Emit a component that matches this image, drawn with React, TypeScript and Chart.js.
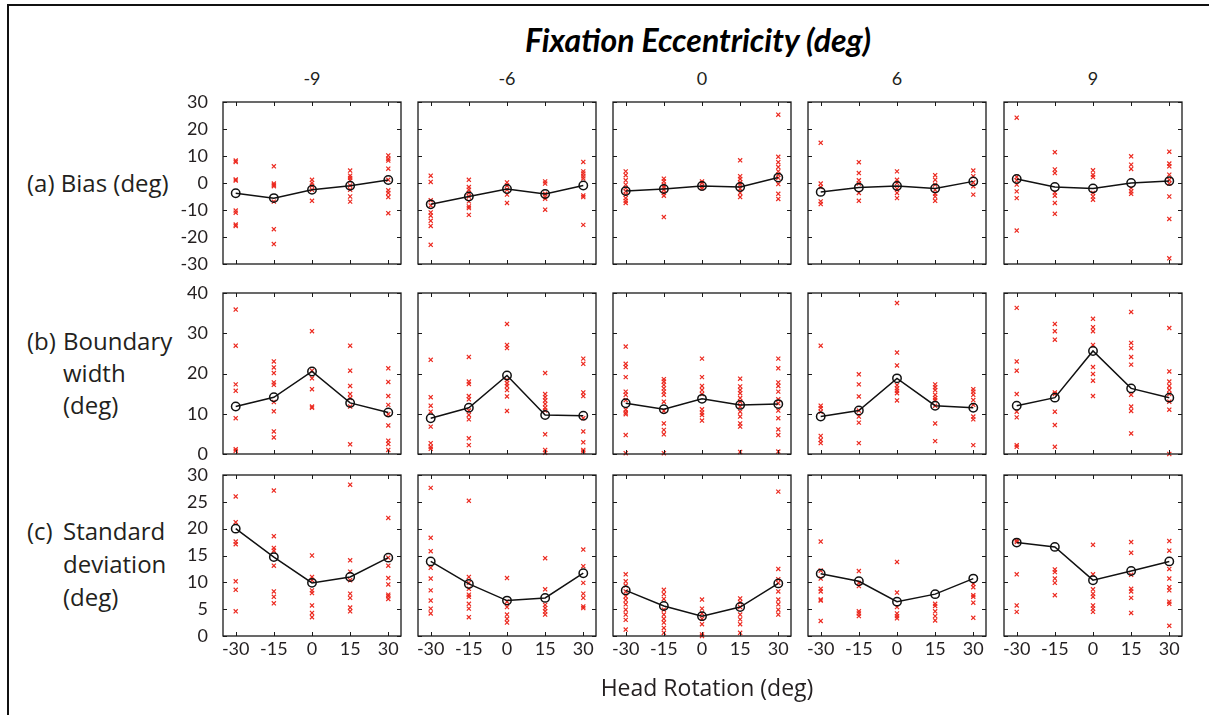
import React, { useEffect, useRef } from 'react';
import { Chart, registerables } from 'chart.js';

Chart.register(...registerables);

// ---------- data ----------
const HEAD_ROTATION = [-30, -15, 0, 15, 30];
const ECCENTRICITY = ['-9', '-6', '0', '6', '9'];

const BIAS_TICKS = { min: -30, max: 30, step: 10 };
const WIDTH_TICKS = { min: 0, max: 40, step: 10 };
const SD_TICKS = { min: 0, max: 30, step: 5 };

// means per eccentricity column (-9, -6, 0, 6, 9), over head rotations
const BIAS_MEANS = [
  [-3.8, -5.6, -2.5, -1.0, 1.1],
  [-7.9, -5.0, -2.2, -4.1, -0.9],
  [-3.0, -2.2, -1.1, -1.5, 2.0],
  [-3.3, -1.7, -1.1, -2.0, 0.6],
  [1.5, -1.5, -2.0, 0.0, 0.7],
];
const BIAS_POINTS = [
  [
    [8.3, 7.8, 1.3, 0.9, -10.2, -11, -15.4, -15.9],
    [6.2, -0.2, -0.7, -1.2, -6.9, -17.1, -22.6],
    [1.2, 0, -1, -2.5, -6.6],
    [4.6, 2.7, 1.9, 1, -0.9, -2.5, -5, -6.9],
    [10.2, 9, 8.3, 5.3, 1.2, -2.7, -3.7, -5.2, -11.2],
  ],
  [
    [2.7, 0.4, -6.4, -8.3, -10.9, -12.1, -14, -15.9, -22.9],
    [1.2, -1.5, -2.5, -3.7, -5, -6.8, -8.7, -9.3, -11.8],
    [0.2, -1, -2.5, -4.3, -7.4],
    [0.6, -0.2, -4, -5, -5.8, -9.9],
    [7.8, 4.3, 3.5, 2.5, 1.7, -4.6, -5.2, -15.5],
  ],
  [
    [4.3, 2.9, 1, -0.6, -1.9, -3.1, -4.3, -5.6, -6.6, -7.4],
    [1.6, 0.6, -0.6, -1.5, -2.5, -3.7, -4.7, -12.6],
    [0.6, 0, -1.2, -2],
    [8.4, 2.5, 1.5, 0.2, -0.6, -2.1, -3.7, -5.2],
    [25.3, 9.7, 7.7, 5.9, 4.3, 3.1, 1.9, -0.4, -4, -5.9],
  ],
  [
    [14.9, -0.2, -1.5, -6.8, -7.8],
    [7.7, 3.7, 1, -0.2, -3.7, -6.6],
    [4.3, 1.2, 0, -2.2, -3.7, -5.6],
    [2.9, 1.2, -0.6, -2.5, -4, -5, -6.6],
    [4.6, 2.5, 0.2, -1.2, -4.3],
  ],
  [
    [24.2, 2.2, 1, -0.6, -3.1, -5.6, -17.6],
    [11.4, 5, 3.7, -3.5, -4.7, -7.4, -11.4],
    [4.7, 3.1, 2.2, -3.7, -5, -6.2],
    [9.9, 6.8, 5.2, -1.9, -3.1, -4],
    [11.6, 7.2, 6.2, 3.1, 1.2, -0.2, -5, -13.3, -27.9],
  ],
];

const WIDTH_MEANS = [
  [11.8, 14.1, 20.5, 12.7, 10.3],
  [8.9, 11.5, 19.5, 9.7, 9.5],
  [12.6, 11.1, 13.7, 12.2, 12.4],
  [9.3, 10.8, 18.8, 12.0, 11.5],
  [12.0, 14.0, 25.6, 16.3, 14.0],
];
const WIDTH_POINTS = [
  [
    [35.9, 26.9, 17.3, 15.7, 8.9, 1.2, 0.8],
    [23, 21.5, 20.1, 17.8, 17.2, 12.9, 10.6, 5.6, 4.1],
    [30.5, 20.7, 18.8, 16.1, 11.8, 11.5],
    [26.9, 20.7, 16.9, 14.9, 13.9, 11.8, 2.4],
    [21.3, 17.9, 14.4, 12.2, 9.9, 7.1, 3.3, 2.5, 1],
  ],
  [
    [23.4, 14.1, 12, 10.5, 6.8, 2.7, 1.8, 1.3],
    [24.1, 18, 17.4, 14.4, 13.6, 10.8, 9.7, 8.6, 3.9, 2.2],
    [32.3, 27.1, 26.3, 18.4, 17.6, 16.9, 15.9, 14.3, 10.7],
    [20.1, 14.9, 14.1, 13.3, 12.4, 11.5, 10.8, 4.9, 1, 0.3],
    [23.7, 22.4, 15.3, 14.4, 8.9, 5.6, 2.9, 1, 0.6],
  ],
  [
    [26.7, 22.4, 21.6, 19.1, 15.5, 14.7, 13.4, 11, 10.3, 9.9, 4.7, 0.2],
    [18.6, 18, 17.2, 16.3, 15.5, 14.7, 13, 10.7, 7.6, 6, 4.9, 0.2],
    [23.7, 19.1, 16.9, 15.9, 14.9, 11.1, 10.3, 9.7, 8.3],
    [18.7, 16.8, 15.9, 15.1, 13.9, 13, 11.8, 10.5, 9.3, 7.6, 6.8, 0.5],
    [23.7, 21.3, 17.8, 16.9, 15.5, 13.6, 12.6, 10.8, 8.9, 6.1, 4.7, 0.6],
  ],
  [
    [26.9, 12, 11.4, 10.5, 4.5, 3.5, 2.7],
    [19.8, 17.3, 14.3, 10.8, 9.3, 7.8, 2.7],
    [37.5, 25.2, 22, 17.1, 16.3, 15.7, 15.1, 13.3],
    [17.3, 16.6, 15.9, 14.7, 13.9, 13.4, 12, 7.6, 3.2],
    [16.1, 15.5, 14.7, 13.4, 12.2, 9.3, 8.6, 2.2],
  ],
  [
    [36.3, 23, 20.7, 14.9, 10.5, 9.1, 2.2, 1.8],
    [32.3, 30.5, 28.4, 15.3, 14.9, 10.5, 7.2, 1.8],
    [33.6, 31.5, 30.5, 27.1, 21.6, 19.9, 18.2, 14.4],
    [35.3, 27.6, 26.3, 24.1, 22.2, 14.7, 11.8, 10.7, 5.1],
    [31.3, 20.5, 18, 16.9, 15.9, 14.9, 13, 11, 0],
  ],
];

const SD_MEANS = [
  [20.0, 14.7, 9.9, 11.0, 14.6],
  [13.9, 9.7, 6.6, 7.1, 11.7],
  [8.5, 5.6, 3.7, 5.4, 9.8],
  [11.6, 10.2, 6.4, 7.8, 10.7],
  [17.4, 16.6, 10.4, 12.1, 13.9],
];
const SD_POINTS = [
  [
    [26, 21.2, 17.6, 17.1, 10.2, 8.6, 4.6],
    [27.1, 18.6, 16.4, 15.9, 13.1, 8.3, 7.3, 6.1],
    [15, 11, 10.4, 8.5, 8, 5.7, 4.3, 3.5],
    [28.2, 14.1, 12, 10.4, 7.9, 7.1, 5.3, 4.6],
    [22, 14.6, 13.1, 10.8, 9.6, 7.7, 7.4, 6.9],
  ],
  [
    [27.6, 18.3, 15.8, 12.7, 10.7, 8.5, 6.6, 5.1, 4.2],
    [25.2, 11, 9.9, 8.8, 7.7, 7.3, 6, 5.1, 3.5],
    [10.8, 6.4, 5.4, 4, 3.2, 2.5],
    [14.5, 8.7, 5.8, 5.2, 4.6, 4],
    [16.1, 13, 9.9, 7.9, 7.1, 5.5, 5.2],
  ],
  [
    [11.5, 10.2, 9.4, 8.3, 7.4, 6.7, 5.9, 4.9, 4, 3, 1.2],
    [8.6, 7.8, 6.9, 4.9, 4, 3.2, 2.5, 1.5, 0.6],
    [6.8, 5.1, 4.2, 3.2, 2.2, 0.3, 0],
    [7, 6.3, 5.4, 4, 3.1, 2.2, 0.6],
    [26.9, 12.5, 10.6, 9.9, 8.3, 6.8, 5.9, 4.9, 4],
  ],
  [
    [17.6, 12.2, 10.7, 8.8, 8.3, 6.8, 6.6, 2.8],
    [12.1, 9.9, 9.3, 4.6, 4.2, 3.7],
    [13.8, 8.1, 5.4, 4.2, 3.7, 3.3],
    [6, 5.6, 4.6, 3.7, 2.9],
    [9.7, 9.1, 7.6, 7.3, 6.2, 3.4],
  ],
  [
    [17.8, 17.5, 11.5, 5.7, 4.5],
    [12.4, 11.9, 10.7, 9.9, 7.6],
    [17, 11.5, 8.7, 7.9, 7.3, 5.7, 5.1, 4.5],
    [17.5, 15.5, 11.4, 8.8, 8.3, 7.1, 4.3],
    [17.7, 15.9, 12.5, 10.7, 9.1, 8.5, 6.4, 6, 1.9],
  ],
];

const ROWS = [
  { means: BIAS_MEANS, points: BIAS_POINTS, ticks: BIAS_TICKS },
  { means: WIDTH_MEANS, points: WIDTH_POINTS, ticks: WIDTH_TICKS },
  { means: SD_MEANS, points: SD_POINTS, ticks: SD_TICKS },
];

// ---------- layout ----------
const TICK_FONT = 'Lato, "Open Sans", sans-serif';
const TEXT_FONT = '"Open Sans", Lato, sans-serif';
const PLOT_LEFT = [223, 418, 613, 808, 1004];
const PLOT_TOP = [102, 293, 475];
const PLOT_W = 178;
const PLOT_H = [162, 161, 161];
const Y_AXIS_W = 52;
const X_AXIS_H = 32;
const M = 16;

const framePlugin = {
  id: 'mFrame',
  afterDraw(chart: any) {
    const { ctx, chartArea: a, scales } = chart;
    const L = 4;
    ctx.save();
    ctx.strokeStyle = '#1a1a1a';
    ctx.lineWidth = 1;
    ctx.beginPath();
    for (const t of scales.x.ticks) {
      const px = Math.round(scales.x.getPixelForValue(t.value)) + 0.5;
      ctx.moveTo(px, a.bottom);
      ctx.lineTo(px, a.bottom - L);
      ctx.moveTo(px, a.top);
      ctx.lineTo(px, a.top + L);
    }
    for (const t of scales.y.ticks) {
      const py = Math.round(scales.y.getPixelForValue(t.value)) + 0.5;
      ctx.moveTo(a.left, py);
      ctx.lineTo(a.left + L, py);
      ctx.moveTo(a.right, py);
      ctx.lineTo(a.right - L, py);
    }
    ctx.stroke();
    ctx.lineWidth = 1.3;
    ctx.strokeRect(a.left, a.top, a.right - a.left, a.bottom - a.top);
    ctx.restore();
  },
};

function zeroPad(s: any) {
  s.paddingTop = 0;
  s.paddingBottom = 0;
  s.paddingLeft = 0;
  s.paddingRight = 0;
}

function Panel({ row, col }: { row: number; col: number }) {
  const ref = useRef<HTMLCanvasElement | null>(null);
  const firstCol = col === 0;
  const bottomRow = row === 2;
  const yw = firstCol ? Y_AXIS_W : 0;
  const xh = bottomRow ? X_AXIS_H : 0;
  const w = M + yw + PLOT_W + M;
  const h = M + PLOT_H[row] + xh + M;
  const left = PLOT_LEFT[col] - yw - M;
  const top = PLOT_TOP[row] - M;

  useEffect(() => {
    const spec = ROWS[row];
    const scatter: any[] = [];
    HEAD_ROTATION.forEach((x, i) => {
      spec.points[col][i].forEach((y: number) => scatter.push({ x, y }));
    });
    const meanLine = HEAD_ROTATION.map((x, i) => ({ x, y: spec.means[col][i] }));
    const chart = new Chart(ref.current as HTMLCanvasElement, {
      type: 'scatter',
      data: {
        datasets: [
          {
            data: meanLine,
            showLine: true,
            borderColor: '#111',
            borderWidth: 1.5,
            pointStyle: 'circle',
            pointRadius: 4.2,
            pointBorderWidth: 1.5,
            pointBorderColor: '#111',
            pointBackgroundColor: 'rgba(0,0,0,0)',
            order: 1,
            clip: false,
          } as any,
          {
            data: scatter,
            showLine: false,
            pointStyle: 'crossRot',
            pointRadius: 2.9,
            pointBorderWidth: 1.2,
            borderColor: '#ec2a20',
            pointBorderColor: '#ec2a20',
            order: 2,
            clip: false,
          } as any,
        ],
      },
      options: {
        animation: false,
        responsive: false,
        events: [],
        layout: { padding: M },
        plugins: { legend: { display: false }, tooltip: { enabled: false } },
        scales: {
          x: {
            type: 'linear',
            min: -35,
            max: 35,
            afterBuildTicks: (s: any) => {
              s.ticks = HEAD_ROTATION.map((v) => ({ value: v }));
            },
            afterFit: (s: any) => {
              s.height = xh;
              zeroPad(s);
            },
            grid: { display: false, drawTicks: false },
            border: { display: false },
            ticks: {
              display: bottomRow,
              padding: 2,
              color: '#231f20',
              font: { family: TICK_FONT, size: 18 },
              maxRotation: 0,
              autoSkip: false,
              callback: (v: any) => String(v),
            },
          },
          y: {
            type: 'linear',
            min: spec.ticks.min,
            max: spec.ticks.max,
            afterFit: (s: any) => {
              s.width = yw;
              zeroPad(s);
            },
            grid: { display: false, drawTicks: false },
            border: { display: false },
            ticks: {
              display: firstCol,
              stepSize: spec.ticks.step,
              padding: 15,
              color: '#231f20',
              font: { family: TICK_FONT, size: 18 },
              autoSkip: false,
              callback: (v: any) => String(v),
            },
          },
        },
      } as any,
      plugins: [framePlugin],
    });
    return () => chart.destroy();
  }, [row, col]);

  return (
    <canvas
      ref={ref}
      width={w}
      height={h}
      style={{ position: 'absolute', left, top, width: w, height: h }}
    />
  );
}

const textBase: React.CSSProperties = {
  position: 'absolute',
  fontFamily: TEXT_FONT,
  color: '#231f20',
  whiteSpace: 'nowrap',
};

export default function App() {
  const panels: any[] = [];
  for (let r = 0; r < 3; r++) {
    for (let c = 0; c < 5; c++) {
      panels.push(<Panel key={`${r}-${c}`} row={r} col={c} />);
    }
  }
  return (
    <div
      style={{
        position: 'absolute',
        left: 0,
        top: 0,
        width: 1209,
        height: 715,
        overflow: 'hidden',
        background: '#fff',
      }}
    >
      <div
        style={{
          position: 'absolute',
          left: 7,
          top: 4,
          width: 1230,
          height: 730,
          borderTop: '2.5px solid #111',
          borderLeft: '2px solid #111',
        }}
      />
      <div
        style={{
          ...textBase,
          fontFamily: TICK_FONT,
          left: 398,
          width: 600,
          top: 20,
          textAlign: 'center',
          fontSize: 32,
          lineHeight: '40px',
          fontWeight: 'bold',
          fontStyle: 'italic',
          color: '#000',
        }}
      >
        Fixation Eccentricity (deg)
      </div>
      {ECCENTRICITY.map((e, i) => (
        <div
          key={e}
          style={{
            ...textBase,
            fontFamily: TICK_FONT,
            left: PLOT_LEFT[i],
            width: PLOT_W,
            top: 66,
            textAlign: 'center',
            fontSize: 18,
            lineHeight: '24px',
          }}
        >
          {e}
        </div>
      ))}
      <div style={{ ...textBase, left: 27, top: 167, fontSize: 24, lineHeight: '32px' }}>
        (a) Bias (deg)
      </div>
      <div style={{ ...textBase, left: 27, top: 325, fontSize: 24, lineHeight: '32px' }}>(b)</div>
      <div style={{ ...textBase, left: 63, top: 325, fontSize: 24, lineHeight: '32px' }}>
        Boundary
        <br />
        width
        <br />
        (deg)
      </div>
      <div style={{ ...textBase, left: 27, top: 514, fontSize: 24, lineHeight: '33px' }}>(c)</div>
      <div style={{ ...textBase, left: 63, top: 514, fontSize: 24, lineHeight: '33px' }}>
        Standard
        <br />
        deviation
        <br />
        (deg)
      </div>
      {panels}
      <div
        style={{
          ...textBase,
          left: 507,
          width: 400,
          top: 671,
          textAlign: 'center',
          fontSize: 23,
          lineHeight: '32px',
        }}
      >
        Head Rotation (deg)
      </div>
    </div>
  );
}
